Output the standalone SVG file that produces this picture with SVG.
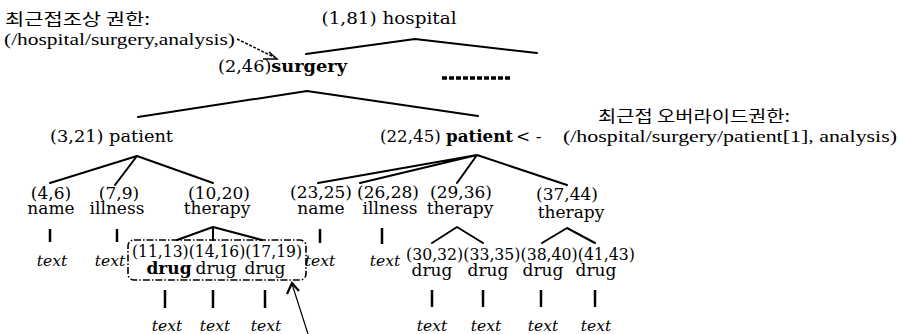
<svg xmlns="http://www.w3.org/2000/svg" width="900" height="334" viewBox="0 0 900 334">
<style>
.t{font-family:"DejaVu Serif","Liberation Serif",serif;font-size:17px;fill:#000}
.m{text-anchor:middle}
.b{font-weight:bold}
.i{font-family:"DejaVu Serif","Liberation Serif",serif;font-style:italic;font-size:15.5px;text-anchor:middle;fill:#000}
.a{font-family:"Liberation Serif",serif;font-size:17px;fill:#000}
.k{font-family:"Noto Sans CJK KR","Noto Sans CJK SC",sans-serif;font-size:16px;fill:#000}
.e{stroke:#000;stroke-width:2;fill:none;stroke-linecap:round;stroke-linejoin:round}
.v{stroke:#000;stroke-width:2.5;fill:none}
</style>
<rect width="900" height="334" fill="#fff"/>
<g id="connectors">
<path class="e" d="M306,54 L415,39 L537,53"/>
<path class="e" d="M138,117 L307,91 L478,116"/>
<path class="e" d="M50,183 L137,156 L213,183 M115,185 L137,156"/>
<path class="e" d="M318,183 L477,155 L567,185 M360,183 L477,155 L457,183"/>
<path class="e" d="M177,240 L213,227 L262,240 M213,227 L213,240"/>
<path class="e" d="M432,243 L457,227 L483,243"/>
<path class="e" d="M542,243 L567,228 L595,243"/>
<path class="v" d="M50,229 V242 M117,229 V242 M320,229 V243 M382,228 V244"/>
<path class="v" d="M165,290 V308 M213,290 V308 M265,290 V308"/>
<path class="v" d="M432,290 V307 M483,290 V307 M541,290 V307 M595,290 V307"/>
<line x1="442" y1="78" x2="510" y2="78" stroke="#000" stroke-width="3.5" stroke-dasharray="5 2"/>
</g>
<g id="n-hospital"><text class="t m" x="389" y="24" font-size="18" textLength="135" lengthAdjust="spacingAndGlyphs">(1,81) hospital</text></g>
<g id="n-surgery"><text class="t" x="218" y="72" textLength="129" lengthAdjust="spacingAndGlyphs">(2,46)<tspan class="b">surgery</tspan></text></g>
<g id="n-patient1"><text class="t" x="50" y="142" textLength="123" lengthAdjust="spacingAndGlyphs">(3,21) patient</text></g>
<g id="n-patient2"><text class="t" x="380" y="142" textLength="133" lengthAdjust="spacingAndGlyphs">(22,45) <tspan class="b">patient</tspan></text><text class="t" x="516" y="142" font-size="16">&lt; -</text></g>
<g id="n-name1"><text class="t m" x="51" y="199">(4,6)</text><text class="t m" x="51" y="214">name</text><text class="i" x="52" y="266">text</text></g>
<g id="n-illness1"><text class="t m" x="119" y="199">(7,9)</text><text class="t m" x="117" y="214">illness</text><text class="i" x="110" y="266">text</text></g>
<g id="n-therapy1"><text class="t m" x="219" y="199">(10,20)</text><text class="t m" x="217" y="214">therapy</text></g>
<g id="n-drugs1">
<rect x="128" y="240" width="178" height="40" rx="6" fill="none" stroke="#000" stroke-width="1.6" stroke-dasharray="7 2 1.5 2"/>
<text class="t" x="132" y="257" textLength="170" lengthAdjust="spacingAndGlyphs">(11,13)(14,16)(17,19)</text>
<text class="t m b" x="169" y="274">drug</text><text class="t m" x="216" y="274">drug</text><text class="t m" x="265" y="274">drug</text>
<text class="i" x="167" y="331">text</text><text class="i" x="215" y="331">text</text><text class="i" x="266" y="331">text</text>
</g>
<g id="n-name2"><text class="t m" x="321" y="198">(23,25)</text><text class="t m" x="321" y="214">name</text><text class="i" x="320" y="266">text</text></g>
<g id="n-illness2"><text class="t m" x="388" y="198">(26,28)</text><text class="t m" x="390" y="214">illness</text><text class="i" x="385" y="266">text</text></g>
<g id="n-therapy2"><text class="t m" x="461" y="198">(29,36)</text><text class="t m" x="460" y="214">therapy</text></g>
<g id="n-therapy3"><text class="t m" x="567" y="200">(37,44)</text><text class="t m" x="571" y="218">therapy</text></g>
<g id="n-drugs2">
<text class="t" x="406" y="260" textLength="229" lengthAdjust="spacingAndGlyphs">(30,32)(33,35)(38,40)(41,43)</text>
<text class="t m" x="432" y="276">drug</text><text class="t m" x="488" y="276">drug</text><text class="t m" x="543" y="276">drug</text><text class="t m" x="596" y="276">drug</text>
<text class="i" x="432" y="331">text</text><text class="i" x="486" y="331">text</text><text class="i" x="543" y="331">text</text><text class="i" x="596" y="331">text</text>
</g>
<g id="ann-ancestor">
<text class="k" x="5" y="25" textLength="145" lengthAdjust="spacingAndGlyphs">최근접조상 권한:</text>
<text class="a" x="4" y="45" textLength="231" lengthAdjust="spacingAndGlyphs">(/hospital/surgery,analysis)</text>
<path d="M237,39 L274,57" stroke="#000" stroke-width="1.5" stroke-dasharray="3 1.5" fill="none"/>
<path d="M263,59 L277,59 L269,52" stroke="#000" stroke-width="1.5" fill="none"/>
</g>
<g id="ann-override">
<text class="k" x="598" y="122" textLength="192" lengthAdjust="spacingAndGlyphs">최근접 오버라이드권한:</text>
<text class="a" x="563" y="142" textLength="334" lengthAdjust="spacingAndGlyphs">(/hospital/surgery/patient[1], analysis)</text>
</g>
<g id="arrow-box">
<path d="M308,334 L292,284" stroke="#000" stroke-width="1.2" fill="none"/>
<path d="M287,294 L292,283 L299,291" stroke="#000" stroke-width="2.2" fill="none"/>
</g>
</svg>
